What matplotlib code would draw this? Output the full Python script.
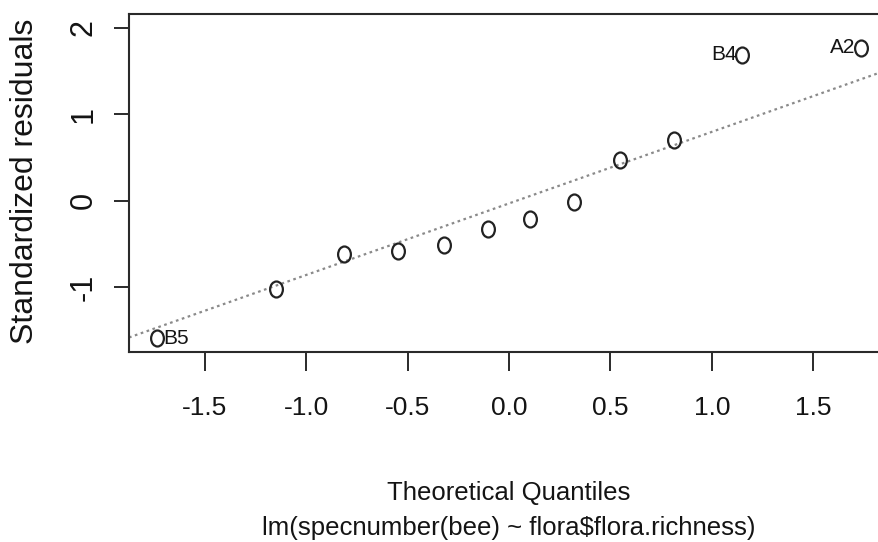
import numpy as np
import matplotlib
matplotlib.use("Agg")
import matplotlib.pyplot as plt
from matplotlib.path import Path
from matplotlib.transforms import Affine2D
from statistics import NormalDist

# ---- data ----
theoretical_q = [-1.732, -1.150, -0.812, -0.548, -0.319, -0.105,
                 0.105, 0.319, 0.548, 0.812, 1.150, 1.732]
std_resid = [-1.59, -1.02, -0.62, -0.58, -0.51, -0.33,
             -0.21, -0.02, 0.47, 0.70, 1.69, 1.77]
point_ids = ["B5", "", "", "", "", "", "", "", "", "", "B4", "A2"]
x_ticks = [-1.5, -1.0, -0.5, 0.0, 0.5, 1.0, 1.5]
x_ticklabels = ["-1.5", "-1.0", "-0.5", "0.0", "0.5", "1.0", "1.5"]
y_ticks = [-1, 0, 1, 2]
y_ticklabels = ["-1", "0", "1", "2"]
xlab = "Theoretical Quantiles"
sublab = "lm(specnumber(bee) ~ flora$flora.richness)"
ylab = "Standardized residuals"

FONT = ["Liberation Sans", "DejaVu Sans"]
plt.rcParams["font.family"] = FONT
TXT = "#141414"
AX = "#2a2a2a"

fig = plt.figure(figsize=(8.79, 5.42), dpi=100)
W, H = 879, 542
ax = fig.add_axes([129 / W, 1 - 352 / H, 760 / W, 338 / H])

# qq-line through quartiles (as R's qqline)
y = np.array(std_resid)
yq = np.quantile(y, [0.25, 0.75])
xq = np.array([NormalDist().inv_cdf(0.25), NormalDist().inv_cdf(0.75)])
slope = (yq[1] - yq[0]) / (xq[1] - xq[0])
intercept = yq[0] - slope * xq[0]
ax.axline((0, intercept), slope=slope, color="#8a8a8a", lw=1.6,
          linestyle=(0, (1.2, 1.6)), zorder=1)

# slightly squeezed circle marker (reference is horizontally compressed)
circ = Path.unit_circle()
ell = Affine2D().scale(0.8, 1.0).transform_path(circ)
ax.plot(theoretical_q, std_resid, linestyle="none", marker=ell,
        markersize=11.5, markerfacecolor="none", markeredgecolor="#222222",
        markeredgewidth=1.6, zorder=3)

for xv, yv, lab in zip(theoretical_q, std_resid, point_ids):
    if not lab:
        continue
    if xv < 0:
        ax.annotate(lab, (xv, yv), xytext=(4, 0), textcoords="offset points",
                    ha="left", va="center", fontsize=15, color=TXT)
    else:
        ax.annotate(lab, (xv, yv), xytext=(-4, 0), textcoords="offset points",
                    ha="right", va="center", fontsize=15, color=TXT)

ax.set_xlim(-1.872, 1.872)
ax.set_ylim(-1.75, 2.16)

ax.set_xticks(x_ticks)
ax.set_xticklabels(x_ticklabels)
ax.set_yticks(y_ticks)
ax.set_yticklabels(y_ticklabels, rotation=90, va="center")

ax.tick_params(axis="x", direction="out", length=13.5, width=1.4, color=AX,
               labelsize=19, labelcolor=TXT, pad=18)
ax.tick_params(axis="y", direction="out", length=10.8, width=1.4, color=AX,
               labelsize=22, labelcolor=TXT, pad=11)
for s in ax.spines.values():
    s.set_color(AX)
    s.set_linewidth(1.5)

fig.text(509 / W, 1 - 500 / H, xlab, ha="center", va="baseline",
         fontsize=18.5, color=TXT)
fig.text(509 / W, 1 - 535 / H, sublab, ha="center", va="baseline",
         fontsize=18.5, color=TXT)
fig.text(25 / W, 1 - 181 / H, ylab, ha="center", va="center",
         rotation=90, fontsize=23, color=TXT)

fig.savefig("out.png", dpi=100)
